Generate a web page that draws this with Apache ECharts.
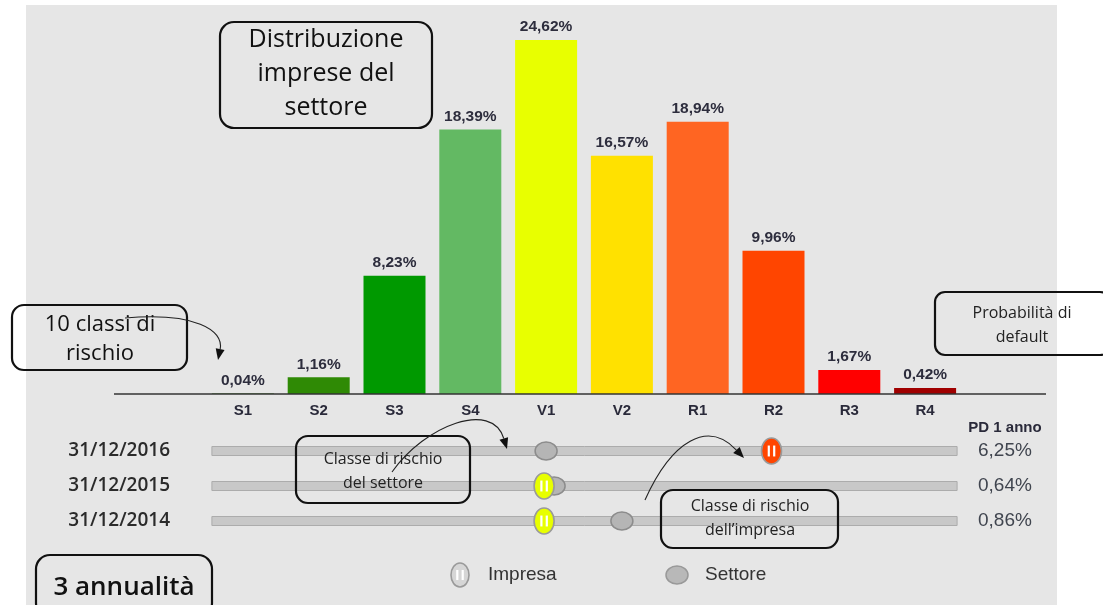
<!DOCTYPE html>
<html><head><meta charset="utf-8">
<script src="https://cdn.jsdelivr.net/npm/echarts@6/dist/echarts.min.js"></script>
<style>html,body{margin:0;padding:0;background:#fff;}#c{width:1103px;height:605px;}</style>
</head><body><div id="c"></div>
<script>
// ---- data ----
const categories = ['S1','S2','S3','S4','V1','V2','R1','R2','R3','R4'];
const sharePct = [0.04,1.16,8.23,18.39,24.62,16.57,18.94,9.96,1.67,0.42];
const classColors = ['#1f7a00','#2f8a05','#009900','#63b963','#e8ff00','#ffe100','#ff6522','#ff4500','#ff0000','#a00000'];
const years = ['31/12/2016','31/12/2015','31/12/2014'];
const companyClass = ['R2','V1','V1'];
const sectorClass = ['V1','V1','V2'];
const pdOneYear = ['6,25%','0,64%','0,86%'];

// ---- layout ----
const GL = 205, GW = 758;
const BASE_Y = 394;

const chart = echarts.init(document.getElementById('c'), null, {renderer:'canvas'});

const fmt = v => v.toFixed(2).replace('.', ',') + '%';

function arrow(x0,y0,c1x,c1y,c2x,c2y,x1,y1){
  const dx = x1-c2x, dy = y1-c2y, L = Math.hypot(dx,dy);
  const ux = dx/L, uy = dy/L, px = -uy, py = ux, len = 11, w = 4.5;
  const bx = x1-ux*len, by = y1-uy*len;
  return [
    {type:'bezierCurve', z:120, shape:{x1:x0,y1:y0,cpx1:c1x,cpy1:c1y,cpx2:c2x,cpy2:c2y,x2:bx,y2:by}, style:{stroke:'#222', lineWidth:1.1, fill:null}},
    {type:'polygon', z:120, shape:{points:[[x1,y1],[bx+px*w,by+py*w],[bx-px*w,by-py*w]]}, style:{fill:'#111'}}
  ];
}
function box(x,y,w,h,r){
  return {type:'rect', z:110, shape:{x,y,width:w,height:h,r}, style:{fill:null, stroke:'#111', lineWidth:2.2}};
}
function txt(t,x,y,size,opt){
  opt = opt||{};
  return {type:'text', z:115, style:{text:t, x, y, align:opt.align||'center', verticalAlign:'middle',
    fontSize:size, fontFamily:opt.family||'Open Sans', fontWeight:opt.weight||'normal', fill:opt.fill||'#111'}};
}
function companyShape(cx,cy,color,rx,ry){
  return {type:'group', children:[
    {type:'ellipse', shape:{cx,cy,rx,ry}, style:{fill:color, stroke:'#9a9a9a', lineWidth:1.6}},
    {type:'rect', shape:{x:cx-3.8,y:cy-ry*0.42,width:2.2,height:ry*0.84}, style:{fill:'#fff'}},
    {type:'rect', shape:{x:cx+1.6,y:cy-ry*0.42,width:2.2,height:ry*0.84}, style:{fill:'#fff'}}
  ]};
}

const graphics = [
  {type:'rect', z:-10, shape:{x:26,y:5,width:1031,height:600}, style:{fill:'#e6e6e6'}},
  {type:'line', z:5, shape:{x1:114,y1:BASE_Y,x2:1046,y2:BASE_Y}, style:{stroke:'#333', lineWidth:1.6}},
  // title box
  box(220,22,212,106,14),
  txt('Distribuzione',326,40,25), txt('imprese del',326,74,25), txt('settore',326,108,25),
  // 10 classi
  box(12,305,175,65,12),
  txt('10 classi di',100,325,22), txt('rischio',100,354,22),
  ...arrow(125,318,195,312,224,330,218,360),
  // probabilita
  box(935,292,175,63,10),
  txt('Probabilità di',1022,313,16,{fill:'#222'}), txt('default',1022,337,16,{fill:'#222'}),
  // settore box
  box(296,436,174,67,12),
  txt('Classe di rischio',383,459,16,{fill:'#222'}), txt('del settore',383,483,16,{fill:'#222'}),
  ...arrow(392,472,425,425,492,400,507,449),
  // impresa box
  box(661,490,177,58,12),
  txt('Classe di rischio',750,506,16,{fill:'#222'}), txt('dell\u2019impresa',750,530,16,{fill:'#222'}),
  ...arrow(645,500,672,440,708,420,744,458),
  // 3 annualita
  box(36,555,176,62,14),
  txt('3 annualità',124,588,26,{weight:600}),
  // PD header
  txt('PD 1 anno',1005,428,15,{family:'Liberation Sans', weight:'bold', fill:'#2a2a3a'}),
  // legend
  Object.assign(companyShape(460,575,'#d6d6d6',9,12),{z:50}),
  txt('Impresa',488,575,19,{align:'left', family:'Liberation Sans', fill:'#333'}),
  {type:'ellipse', z:50, shape:{cx:677,cy:575,rx:11,ry:9}, style:{fill:'#b8b8b8', stroke:'#999', lineWidth:1.5}},
  txt('Settore',705,575,19,{align:'left', family:'Liberation Sans', fill:'#333'})
];

const option = {
  animation:false,
  backgroundColor:'#ffffff',
  grid:[
    {left:GL, width:GW, top:34.5, height:359.5},
    {left:GL, width:GW, top:433.5, height:105}
  ],
  xAxis:[
    {type:'category', gridIndex:0, data:categories, axisLine:{show:false}, axisTick:{show:false},
     axisLabel:{margin:9, fontSize:15, fontWeight:'bold', fontFamily:'Liberation Sans', color:'#2a2a3a'}},
    {type:'category', gridIndex:1, data:categories, show:false}
  ],
  yAxis:[
    {type:'value', gridIndex:0, min:0, max:25, show:false, splitLine:{show:false}},
    {type:'category', gridIndex:1, data:years, inverse:true, axisLine:{show:false}, axisTick:{show:false},
     axisLabel:{margin:35, fontSize:19, fontWeight:600, fontFamily:'Open Sans', color:'#2b2b2b'}},
    {type:'category', gridIndex:1, position:'right', data:pdOneYear, inverse:true, axisLine:{show:false}, axisTick:{show:false},
     axisLabel:{margin:15, fontSize:19, fontFamily:'Liberation Sans', color:'#40454f', align:'left'}}
  ],
  series:[
    {type:'bar', name:'Distribuzione', xAxisIndex:0, yAxisIndex:0, barWidth:62,
     data:sharePct.map((v,i)=>({value:v, itemStyle:{color:classColors[i]}})),
     label:{show:true, position:'top', distance:5, formatter:p=>fmt(p.value),
       fontSize:15.5, fontWeight:'bold', fontFamily:'Liberation Sans', color:'#2d2d3d'}},
    {type:'custom', name:'track', xAxisIndex:1, yAxisIndex:1, silent:true, z:2,
     data:years.map((y,i)=>[0,i]),
     renderItem:(params,api)=>{
       const a = api.coord([0, api.value(1)]);
       const b = api.coord([categories.length-1, api.value(1)]);
       return {type:'rect', shape:{x:a[0]-31, y:a[1]-4.5, width:(b[0]+32)-(a[0]-31), height:9},
         style:{fill:'#c8c8c8', stroke:'#acacac', lineWidth:1}};
     }},
    {type:'custom', name:'Settore', xAxisIndex:1, yAxisIndex:1, z:3,
     data:years.map((y,i)=>[categories.indexOf(sectorClass[i]), i]),
     renderItem:(params,api)=>{
       const i = params.dataIndex;
       const p = api.coord([api.value(0), api.value(1)]);
       const shift = sectorClass[i]===companyClass[i] ? 8 : 0;
       return {type:'ellipse', shape:{cx:p[0]+shift, cy:p[1], rx:11, ry:9},
         style:{fill:'#b5b5b5', stroke:'#8c8c8c', lineWidth:1.5}};
     }},
    {type:'custom', name:'Impresa', xAxisIndex:1, yAxisIndex:1, z:4,
     data:years.map((y,i)=>[categories.indexOf(companyClass[i]), i]),
     renderItem:(params,api)=>{
       const p = api.coord([api.value(0), api.value(1)]);
       return companyShape(p[0]-2, p[1], classColors[api.value(0)], 10, 13);
     }}
  ],
  graphic:graphics
};
chart.setOption(option);
</script>
</body></html>
